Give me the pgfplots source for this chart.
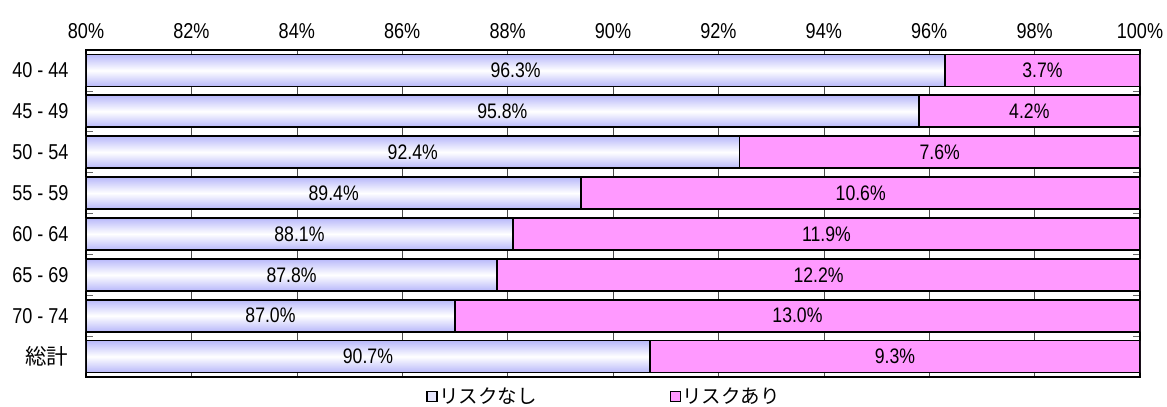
\documentclass[border=0pt]{standalone}
\usepackage{fontspec}
\setmainfont{Liberation Sans}[FakeStretch=0.84]
\newfontfamily\jp{Noto Sans CJK JP}
\usepackage{pgfplots}
\pgfplotsset{compat=1.18}

\definecolor{lav}{RGB}{184,184,250}
\definecolor{pinkbar}{RGB}{255,153,255}

\pgfplotsset{
    /pgf/number format/assume math mode=true,
    lavbar/.style={xbar, bar width=32pt, bar shift=0pt, draw=black, line width=1.8pt,
        top color=lav, bottom color=lav, middle color=white, forget plot},
}
\newcommand{\dsh}{\hspace{5pt}-\hspace{5pt}}

\begin{document}
\begin{tikzpicture}
\begin{axis}[
    name=ax,
    width=1054pt, height=327pt, scale only axis,
    xmin=80, xmax=100,
    ymin=-0.5, ymax=7.5, y dir=reverse,
    xbar stacked, bar width=32pt,
    xtick={80,82,...,100},
    xticklabel pos=upper,
    xticklabel={\pgfmathprintnumber{\tick}\%},
    ytick={0,...,7},
    yticklabels={40\dsh44,45\dsh49,50\dsh54,55\dsh59,60\dsh64,65\dsh69,70\dsh74,{\jp 総計}},
    minor ytick={0.5,1.5,...,6.5},
    minor tick length=7pt,
    major tick length=6pt,
    major y tick style={draw=none},
    minor y tick style={black!60, line width=0.6pt},
    major x tick style={black!70, line width=0.6pt},
    xmajorgrids,
    major grid style={black!70, line width=0.6pt},
    axis line style={black, line width=1.2pt},
    tick label style={font=\fontsize{21.5}{23}\selectfont},
    xticklabel style={yshift=8pt},
    yticklabel style={xshift=-14pt},
    legend style={at={(0.491,-0.02)}, anchor=north, draw=none, fill=none,
        legend columns=2, font=\jp\fontsize{19.5}{21}\selectfont,
        nodes={inner xsep=1pt},
        /tikz/every even column/.append style={column sep=132pt}},
    legend image code/.code={\draw[#1, line width=1.6pt, draw=black] (0pt,-5pt) rectangle (10pt,5pt);},
]
\addplot[draw=black, line width=1.8pt, fill=lav!35]
    coordinates {(96.3,0) (95.8,1) (92.4,2) (89.4,3) (88.1,4) (87.8,5) (87.0,6) (90.7,7)};
\addlegendentry{リスクなし}
\addplot[draw=black, line width=1.8pt, fill=pinkbar]
    coordinates {(3.7,0) (4.2,1) (7.6,2) (10.6,3) (11.9,4) (12.2,5) (13.0,6) (9.3,7)};
\addlegendentry{リスクあり}
\end{axis}

% shaded bars, one plot per row so that each bar gets its own gradient
\begin{axis}[
    at={(ax.south west)}, anchor=south west,
    width=1054pt, height=327pt, scale only axis,
    xmin=80, xmax=100,
    ymin=-0.5, ymax=7.5, y dir=reverse,
    hide axis,
]
\addplot[lavbar] coordinates {(96.3,0)};
\addplot[lavbar] coordinates {(95.8,1)};
\addplot[lavbar] coordinates {(92.4,2)};
\addplot[lavbar] coordinates {(89.4,3)};
\addplot[lavbar] coordinates {(88.1,4)};
\addplot[lavbar] coordinates {(87.8,5)};
\addplot[lavbar] coordinates {(87.0,6)};
\addplot[lavbar] coordinates {(90.7,7)};

\addplot[draw=none, mark=none, point meta=explicit,
    nodes near coords={\pgfmathprintnumber[fixed,fixed zerofill,precision=1]{\pgfplotspointmeta}\%},
    nodes near coords style={anchor=center, font=\fontsize{21}{23}\selectfont}]
    table[x=x, y=y, meta=v] {
x      y  v
88.15  0  96.3
98.15  0  3.7
87.9   1  95.8
97.9   1  4.2
86.2   2  92.4
96.2   2  7.6
84.7   3  89.4
94.7   3  10.6
84.05  4  88.1
94.05  4  11.9
83.9   5  87.8
93.9   5  12.2
83.5   6  87.0
93.5   6  13.0
85.35  7  90.7
95.35  7  9.3
};
\end{axis}

\pgfresetboundingbox
\path[use as bounding box] ([xshift=-86pt,yshift=-30pt]ax.south west) rectangle ([xshift=27pt,yshift=50pt]ax.north east);
\end{tikzpicture}
\end{document}
